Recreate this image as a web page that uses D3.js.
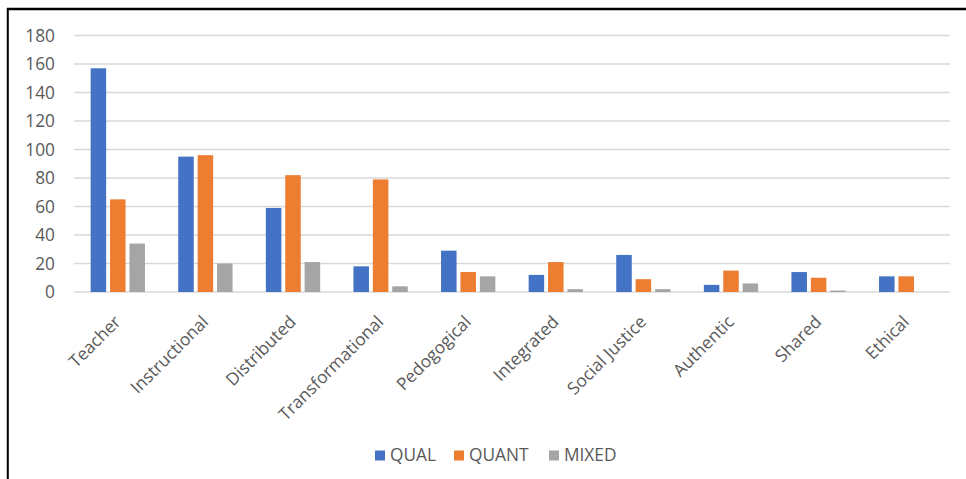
<!DOCTYPE html>
<html>
<head>
<meta charset="utf-8">
<script src="https://cdn.jsdelivr.net/npm/d3@7"></script>
<style>
  html, body { margin: 0; padding: 0; background: #fff; }
  svg { display: block; font-family: "Open Sans", "Noto Sans", sans-serif; }
</style>
</head>
<body>
<svg id="chart" width="966" height="479"></svg>
<script>
// Leadership types and study counts by research design
const categories = ["Teacher", "Instructional", "Distributed", "Transformational", "Pedogogical",
                    "Integrated", "Social Justice", "Authentic", "Shared", "Ethical"];
const seriesNames = ["QUAL", "QUANT", "MIXED"];
const qualValues  = [157, 95, 59, 18, 29, 12, 26, 5, 14, 11];
const quantValues = [65, 96, 82, 79, 14, 21, 9, 15, 10, 11];
const mixedValues = [34, 20, 21, 4, 11, 2, 2, 6, 1, 0];
const yTicks = [0, 20, 40, 60, 80, 100, 120, 140, 160, 180];
const colors = ["#4472C4", "#ED7D31", "#A5A5A5"];

const series = [qualValues, quantValues, mixedValues];

const svg = d3.select("#chart");
const W = 966, H = 479;
const margin = { left: 74, right: 16, top: 35.5 };
const plotRight = W - margin.right;
const plotBottom = 292;
const textColor = "#595959";
const fontSize = 17.3;

// Frame lines (top and left edges)
svg.append("line").attr("x1", 7).attr("x2", W).attr("y1", 9).attr("y2", 9)
  .attr("stroke", "#000").attr("stroke-width", 2.5);
svg.append("line").attr("x1", 7.8).attr("x2", 7.8).attr("y1", 8).attr("y2", H)
  .attr("stroke", "#000").attr("stroke-width", 2);

const x = d3.scaleBand().domain(categories).range([margin.left, plotRight]).paddingInner(0).paddingOuter(0);
const y = d3.scaleLinear().domain([0, 180]).range([plotBottom, margin.top]);

// Bars within a category band
const groupWidth = x.bandwidth() * 0.62;
const x1 = d3.scaleBand().domain(d3.range(series.length))
  .range([0, groupWidth]).paddingInner(0.2).paddingOuter(0);

// Gridlines
svg.append("g").selectAll("line").data(yTicks).join("line")
  .attr("x1", margin.left).attr("x2", plotRight)
  .attr("y1", d => y(d)).attr("y2", d => y(d))
  .attr("stroke", "#D9D9D9").attr("stroke-width", 1.3);

// Y axis labels
const yAxis = d3.axisLeft(y).tickValues(yTicks).tickSize(0).tickPadding(0);
const yg = svg.append("g").attr("transform", `translate(${margin.left - 19},0)`).call(yAxis);
yg.select(".domain").remove();
yg.selectAll("text").attr("fill", textColor).attr("font-size", fontSize).attr("font-family", "'Open Sans', sans-serif");

// Bars
const groups = svg.append("g").selectAll("g").data(categories).join("g")
  .attr("transform", c => `translate(${x(c) + (x.bandwidth() - groupWidth) / 2},0)`);
groups.selectAll("rect")
  .data((c, i) => series.map((s, k) => ({ k, v: s[i] })).filter(d => d.v > 0))
  .join("rect")
  .attr("x", d => x1(d.k))
  .attr("width", x1.bandwidth())
  .attr("y", d => y(d.v))
  .attr("height", d => plotBottom - y(d.v))
  .attr("fill", d => colors[d.k]);

// X axis category labels, rotated
const xAxis = d3.axisBottom(x).tickSize(0).tickPadding(0);
const xg = svg.append("g").attr("transform", `translate(0,${plotBottom})`).call(xAxis);
xg.select(".domain").remove();
xg.selectAll("text")
  .attr("fill", textColor).attr("font-size", fontSize).attr("font-family", "'Open Sans', sans-serif")
  .attr("text-anchor", "end")
  .attr("dy", null).attr("y", 0)
  .attr("transform", "translate(4,31) rotate(-45)");

// Legend
const legendItems = seriesNames.map((n, i) => ({ n, c: colors[i] }));
const legendX = [375, 454, 549];
const lg = svg.append("g").selectAll("g").data(legendItems).join("g")
  .attr("transform", (d, i) => `translate(${legendX[i]},450.5)`);
lg.append("rect").attr("width", 10).attr("height", 10).attr("fill", d => d.c);
lg.append("text").attr("x", 15).attr("y", 10.8)
  .attr("fill", textColor).attr("font-size", fontSize).text(d => d.n);
</script>
</body>
</html>
